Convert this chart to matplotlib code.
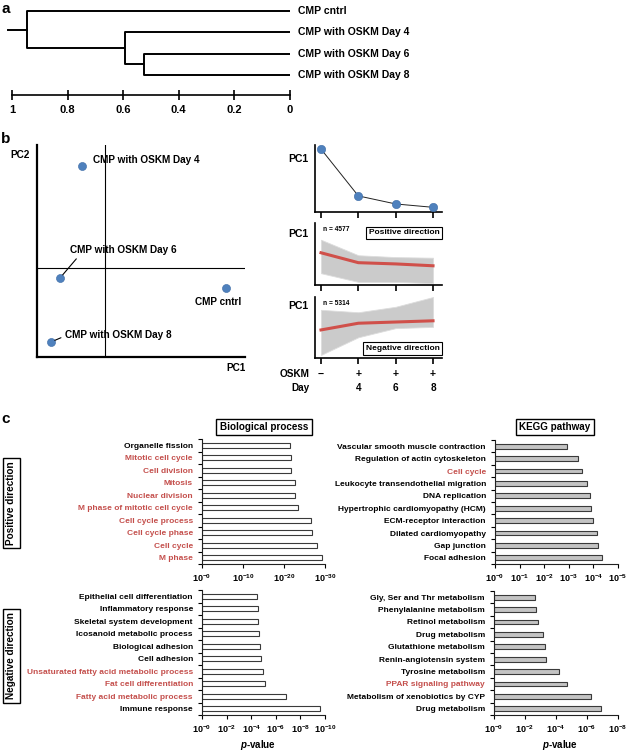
import matplotlib
matplotlib.use('Agg')
import matplotlib.pyplot as plt
import numpy as np
from matplotlib.transforms import blended_transform_factory

plt.rcParams.update({
    'font.family': ['Liberation Sans', 'DejaVu Sans'],
    'font.weight': 'bold',
    'mathtext.fontset': 'custom',
    'mathtext.rm': 'Liberation Sans:bold',
    'mathtext.it': 'Liberation Sans:italic:bold',
    'mathtext.bf': 'Liberation Sans:bold',
    'axes.linewidth': 0.8,
})

# ---------------- data ----------------
dendro_leaves = ['CMP cntrl', 'CMP with OSKM Day 4', 'CMP with OSKM Day 6', 'CMP with OSKM Day 8']
dendro_left = [2, 1, 0]
dendro_right = [3, 4, 5]
dendro_heights = [0.525, 0.594, 0.946]
dendro_ticks = [1, 0.8, 0.6, 0.4, 0.2, 0]
dendro_ticklabels = ['1', '0.8', '0.6', '0.4', '0.2', '0']

pca_labels = ['CMP cntrl', 'CMP with OSKM Day 4', 'CMP with OSKM Day 6', 'CMP with OSKM Day 8']
pca_pc1 = [121, -23, -45, -54]
pca_pc2 = [-20, 102, -10, -74]

oskm_signs = ['\u2212', '+', '+', '+']
day_labels = ['', '4', '6', '8']
pc1_traj = [0.94, 0.24, 0.12, 0.07]
pos_n = 'n = 4577'
pos_mean = [0.52, 0.36, 0.34, 0.31]
pos_upper = [0.73, 0.48, 0.45, 0.44]
pos_lower = [0.19, 0.05, 0.05, 0.03]
neg_n = 'n = 5314'
neg_mean = [0.46, 0.57, 0.59, 0.61]
neg_upper = [0.79, 0.75, 0.84, 1.0]
neg_lower = [0.05, 0.34, 0.49, 0.51]

bio_pos_terms = ['Organelle fission', 'Mitotic cell cycle', 'Cell division', 'Mitosis',
                 'Nuclear division', 'M phase of mitotic cell cycle', 'Cell cycle process',
                 'Cell cycle phase', 'Cell cycle', 'M phase']
bio_pos_logp = [21.5, 21.7, 21.8, 22.7, 22.7, 23.4, 26.6, 26.8, 28.0, 29.3]
bio_pos_red = [0, 1, 1, 1, 1, 1, 1, 1, 1, 1]
bio_pos_ticks = [0, 10, 20, 30]

kegg_pos_terms = ['Vascular smooth muscle contraction', 'Regulation of actin cytoskeleton',
                  'Cell cycle', 'Leukocyte transendothelial migration', 'DNA replication',
                  'Hypertrophic cardiomyopathy (HCM)', 'ECM-receptor interaction',
                  'Dilated cardiomyopathy', 'Gap junction', 'Focal adhesion']
kegg_pos_logp = [2.94, 3.37, 3.54, 3.76, 3.85, 3.89, 3.99, 4.13, 4.19, 4.33]
kegg_pos_red = [0, 0, 1, 0, 0, 0, 0, 0, 0, 0]
kegg_pos_ticks = [0, 1, 2, 3, 4, 5]

bio_neg_terms = ['Epithelial cell differentiation', 'Inflammatory response',
                 'Skeletal system development', 'Icosanoid metabolic process',
                 'Biological adhesion', 'Cell adhesion',
                 'Unsaturated fatty acid metabolic process', 'Fat cell differentiation',
                 'Fatty acid metabolic process', 'Immune response']
bio_neg_logp = [4.47, 4.55, 4.55, 4.6, 4.75, 4.77, 4.96, 5.12, 6.86, 9.57]
bio_neg_red = [0, 0, 0, 0, 0, 0, 1, 1, 1, 0]
bio_neg_ticks = [0, 2, 4, 6, 8, 10]

kegg_neg_terms = ['Gly, Ser and Thr metabolism', 'Phenylalanine metabolism',
                  'Retinol metabolism', 'Drug metabolism', 'Glutathione metabolism',
                  'Renin-angiotensin system', 'Tyrosine metabolism',
                  'PPAR signaling pathway', 'Metabolism of xenobiotics by CYP',
                  'Drug metabolism']
kegg_neg_logp = [2.65, 2.69, 2.82, 3.14, 3.27, 3.35, 4.21, 4.73, 6.24, 6.9]
kegg_neg_red = [0, 0, 0, 0, 0, 0, 0, 1, 0, 0]
kegg_neg_ticks = [0, 2, 4, 6, 8]

# ---------------- layout helpers ----------------
W, H = 629, 753
fig = plt.figure(figsize=(W / 100, H / 100), dpi=100)
PT = 0.72  # points per pixel

def px_axes(l, t, r, b):
    return fig.add_axes([l / W, 1 - b / H, (r - l) / W, (b - t) / H])

def ftext(x, y, s, **kw):
    return fig.text(x / W, 1 - y / H, s, **kw)

RED = '#c44f4c'
BLUE = '#4f81bd'

# ---------------- panel a: dendrogram ----------------
ftext(1, 9, 'a', fontsize=11, fontweight='bold', va='center', ha='left')
axd = px_axes(12, 0, 290, 95)
spacing = 21.3
axd.set_ylim((95 - 11) / spacing, -11 / spacing)
axd.set_xlim(1, 0)
pos = {i: float(i) for i in range(len(dendro_leaves))}
hgt = {i: 0.0 for i in range(len(dendro_leaves))}
node = len(dendro_leaves)
for a, b, h in zip(dendro_left, dendro_right, dendro_heights):
    axd.plot([hgt[a], h, h, hgt[b]], [pos[a], pos[a], pos[b], pos[b]],
             color='black', lw=1.4, solid_capstyle='butt', clip_on=False)
    pos[node] = (pos[a] + pos[b]) / 2
    hgt[node] = h
    node += 1
root = node - 1
axd.plot([hgt[root], hgt[root] + 0.07], [pos[root], pos[root]], color='black', lw=1.4,
         clip_on=False)
for i, lab in enumerate(dendro_leaves):
    axd.annotate(lab, xy=(0, i), xytext=(6, 0), textcoords='offset points',
                 ha='left', va='center', fontsize=7.5, fontweight='bold', annotation_clip=False)
for s in ['top', 'right', 'left']:
    axd.spines[s].set_visible(False)
axd.spines['bottom'].set_linewidth(1.2)
axd.set_yticks([])
axd.set_xticks(dendro_ticks)
axd.set_xticklabels(dendro_ticklabels, fontsize=8, fontweight='bold')
axd.tick_params(axis='x', direction='inout', length=7, width=1.2, pad=4)

# ---------------- panel b: PCA scatter ----------------
ftext(1, 139, 'b', fontsize=11, fontweight='bold', va='center', ha='left')
axs = px_axes(37, 145, 245, 357)
axs.set_xlim(-68, 140)
axs.set_ylim(-89, 123)
axs.axvline(0, color='black', lw=0.8)
axs.axhline(0, color='black', lw=0.8)
axs.plot(pca_pc1, pca_pc2, 'o', ms=5.8, color=BLUE, mec='#3a6aa5', mew=0.4, ls='none',
         clip_on=False, zorder=3)
lab_kw = dict(fontsize=7.2, fontweight='bold', textcoords='offset points', annotation_clip=False)
axs.annotate(pca_labels[0], xy=(pca_pc1[0], pca_pc2[0]), xytext=(-8 * PT, -14 * PT),
             ha='center', va='center', **lab_kw)
axs.annotate(pca_labels[1], xy=(pca_pc1[1], pca_pc2[1]), xytext=(11 * PT, 6 * PT),
             ha='left', va='center', **lab_kw)
axs.annotate(pca_labels[2], xy=(pca_pc1[2], pca_pc2[2]), xytext=(10 * PT, 28 * PT),
             ha='left', va='center',
             arrowprops=dict(arrowstyle='-', color='black', lw=0.8, shrinkA=1, shrinkB=3,
                             relpos=(0.09, 0.0)), **lab_kw)
axs.annotate(pca_labels[3], xy=(pca_pc1[3], pca_pc2[3]), xytext=(14 * PT, 7 * PT),
             ha='left', va='center',
             arrowprops=dict(arrowstyle='-', color='black', lw=0.8, shrinkA=1, shrinkB=3,
                             relpos=(0.0, 0.4)), **lab_kw)
for s in ['top', 'right']:
    axs.spines[s].set_visible(False)
for s in ['left', 'bottom']:
    axs.spines[s].set_linewidth(1.6)
axs.set_xticks([])
axs.set_yticks([])
ftext(30, 155, 'PC2', fontsize=7.2, fontweight='bold', ha='right', va='center')
ftext(246, 368, 'PC1', fontsize=7.2, fontweight='bold', ha='right', va='center')

# ---------------- panel b: small PC1 panels ----------------
xs = np.arange(len(pc1_traj))
def small_panel(t, b):
    ax = px_axes(315, t, 442, b)
    ax.set_xlim(-0.16, 3.24)
    ax.set_ylim(0, 1)
    for s in ['top', 'right']:
        ax.spines[s].set_visible(False)
    for s in ['left', 'bottom']:
        ax.spines[s].set_linewidth(1.2)
    ax.set_yticks([])
    ax.set_xticks(xs)
    ax.set_xticklabels([])
    ax.tick_params(axis='x', direction='out', length=4, width=1.2)
    return ax

ax1 = small_panel(145, 212)
ax1.plot(xs, pc1_traj, color='#222222', lw=0.7, zorder=2)
ax1.plot(xs, pc1_traj, 'o', ms=6, color=BLUE, mec='#3a6aa5', mew=0.4, zorder=3, clip_on=False)
ftext(308, 159, 'PC1', fontsize=7.5, fontweight='bold', ha='right', va='center')

ax2 = small_panel(223, 285)
ax2.fill_between(xs, pos_lower, pos_upper, color='#cbcbcb', lw=0.6, edgecolor='#dddddd')
ax2.plot(xs, pos_mean, color='#d0504a', lw=2.2)
ax2.text(0.06, 0.89, pos_n, transform=ax2.transAxes, fontsize=4.8, fontweight='bold',
         ha='left', va='center')
ax2.text(0.70, 0.84, 'Positive direction', transform=ax2.transAxes, fontsize=6,
         fontweight='bold', ha='center', va='center',
         bbox=dict(boxstyle='square,pad=0.35', fc='white', ec='black', lw=0.8))
ftext(308, 234, 'PC1', fontsize=7.5, fontweight='bold', ha='right', va='center')

ax3 = small_panel(297, 358)
ax3.fill_between(xs, neg_lower, neg_upper, color='#cbcbcb', lw=0.6, edgecolor='#dddddd')
ax3.plot(xs, neg_mean, color='#d0504a', lw=2.2)
ax3.text(0.06, 0.9, neg_n, transform=ax3.transAxes, fontsize=4.8, fontweight='bold',
         ha='left', va='center')
ax3.text(0.69, 0.16, 'Negative direction', transform=ax3.transAxes, fontsize=6,
         fontweight='bold', ha='center', va='center',
         bbox=dict(boxstyle='square,pad=0.35', fc='white', ec='black', lw=0.8))
ftext(308, 306, 'PC1', fontsize=7.5, fontweight='bold', ha='right', va='center')

tr = blended_transform_factory(ax3.transData, fig.transFigure)
for x, sgn, d in zip(xs, oskm_signs, day_labels):
    fig.text(x, 1 - 374 / H, sgn, transform=tr, fontsize=7.5, fontweight='bold',
             ha='center', va='center')
    fig.text(x, 1 - 388 / H, d, transform=tr, fontsize=7.2, fontweight='bold',
             ha='center', va='center')
ftext(310, 374, 'OSKM', fontsize=7.2, fontweight='bold', ha='right', va='center')
ftext(310, 388, 'Day', fontsize=7.2, fontweight='bold', ha='right', va='center')

# ---------------- panel c: enrichment bars ----------------
ftext(1, 419, 'c', fontsize=11, fontweight='bold', va='center', ha='left')

def bar_panel(rect, terms, logp, red, ticks, face):
    ax = px_axes(*rect)
    n = len(terms)
    y = np.arange(n)
    ax.barh(y, logp, height=0.38, color=face, edgecolor='#3a3a3a', lw=0.8)
    ax.set_ylim(n - 0.5, -0.5)
    ax.set_xlim(ticks[0], ticks[-1])
    ax.set_yticks(y)
    ax.set_yticklabels(terms, fontsize=6.0, fontweight='bold')
    for lab, r in zip(ax.get_yticklabels(), red):
        lab.set_color(RED if r else 'black')
    ax.set_yticks(np.arange(n + 1) - 0.5, minor=True)
    ax.tick_params(axis='y', which='major', length=0, pad=6.5)
    ax.tick_params(axis='y', which='minor', length=3, width=0.8, direction='out')
    ax.set_xticks(ticks)
    ax.set_xticklabels([r'$10^{-%d}$' % t for t in ticks], fontsize=6.5)
    ax.tick_params(axis='x', length=3, width=0.8, direction='out', pad=3)
    for s in ['top', 'right']:
        ax.spines[s].set_visible(False)
    for s in ['left', 'bottom']:
        ax.spines[s].set_color('#222222')
    return ax

bar_panel((202, 439, 325, 564), bio_pos_terms, bio_pos_logp, bio_pos_red, bio_pos_ticks, 'white')
bar_panel((495, 440, 618, 564), kegg_pos_terms, kegg_pos_logp, kegg_pos_red, kegg_pos_ticks, '#c4c4c4')
bar_panel((202, 590, 325, 715), bio_neg_terms, bio_neg_logp, bio_neg_red, bio_neg_ticks, 'white')
bar_panel((494, 591, 618, 715), kegg_neg_terms, kegg_neg_logp, kegg_neg_red, kegg_neg_ticks, '#c4c4c4')

box = dict(boxstyle='square,pad=0.35', fc='white', ec='black', lw=1.0)
ftext(264, 427, 'Biological process', fontsize=7.1, fontweight='bold', ha='center', va='center', bbox=box)
ftext(555, 427, 'KEGG pathway', fontsize=7.1, fontweight='bold', ha='center', va='center', bbox=box)
ftext(11.5, 503, 'Positive direction', fontsize=7.2, fontweight='bold', ha='center', va='center',
      rotation=90, bbox=box)
ftext(11.5, 656, 'Negative direction', fontsize=7.2, fontweight='bold', ha='center', va='center',
      rotation=90, bbox=box)
ftext(258, 745, r'$p$-value', fontsize=7, fontweight='bold', ha='center', va='center')
ftext(560, 745, r'$p$-value', fontsize=7, fontweight='bold', ha='center', va='center')

fig.savefig('out.png', dpi=100, facecolor='white')
